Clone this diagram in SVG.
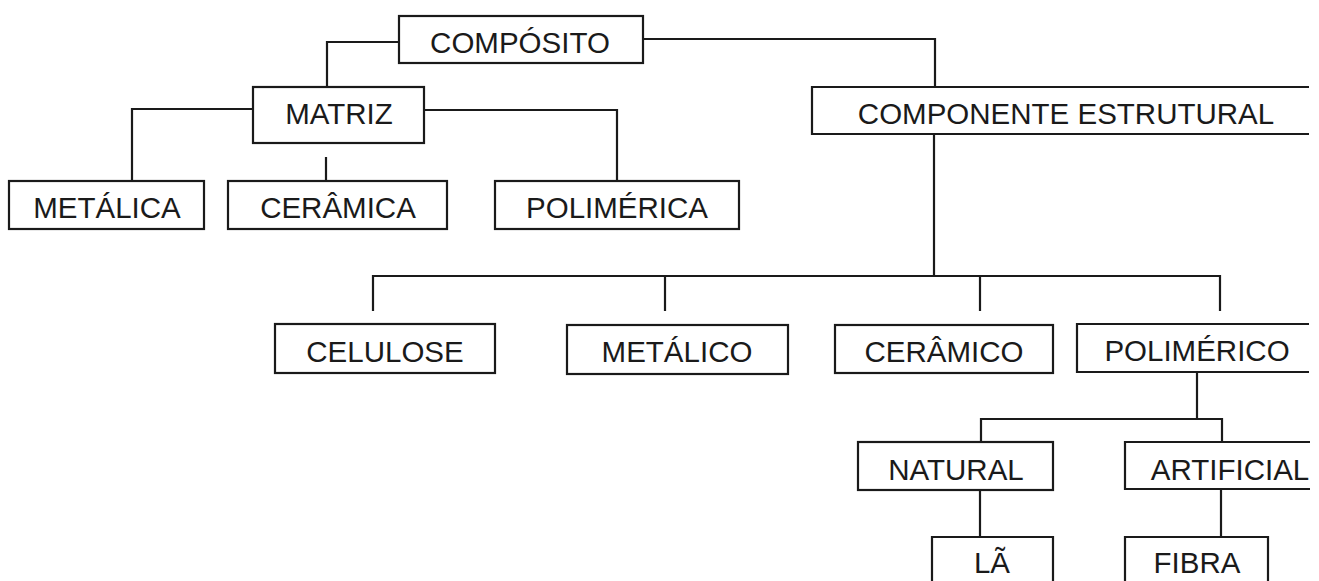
<svg xmlns="http://www.w3.org/2000/svg" width="1319" height="581" viewBox="0 0 1319 581">
<style>
.b{fill:#fff;stroke:#1a1a1a;stroke-width:2.2}
.o{fill:none;stroke:#1a1a1a;stroke-width:2.2}
.t{font-family:"Liberation Sans",Arial,sans-serif;font-size:29.5px;fill:#1a1a1a;text-anchor:middle}
.c{fill:none;stroke:#1a1a1a;stroke-width:2.2}
</style>
<rect width="1319" height="581" fill="#fff"/>
<g id="connectors">
<path class="c" d="M399 42 H327 V87"/>
<path class="c" d="M253 109 H132 V181"/>
<path class="c" d="M326 157 V181"/>
<path class="c" d="M424 110 H617 V181"/>
<path class="c" d="M643 39 H935 V87"/>
<path class="c" d="M934 134 V276"/>
<path class="c" d="M373 311 V276 H1220 V311"/>
<path class="c" d="M665 276 V311"/>
<path class="c" d="M980 276 V311"/>
<path class="c" d="M1197 373 V419"/>
<path class="c" d="M981 442 V419 H1222 V442"/>
<path class="c" d="M980 490 V537"/>
<path class="c" d="M1221 489 V537"/>
</g>
<g id="composito"><rect class="b" x="399" y="16" width="244" height="47"/><text class="t" x="520" y="53">COMPÓSITO</text></g>
<g id="matriz"><rect class="b" x="253" y="87" width="171" height="56"/><text class="t" x="339" y="124">MATRIZ</text></g>
<g id="metalica"><rect class="b" x="9" y="181" width="195" height="48"/><text class="t" x="107" y="218">METÁLICA</text></g>
<g id="ceramica"><rect class="b" x="228" y="181" width="219" height="48"/><text class="t" x="338" y="218">CERÂMICA</text></g>
<g id="polimerica"><rect class="b" x="495" y="181" width="244" height="48"/><text class="t" x="617" y="218">POLIMÉRICA</text></g>
<g id="componente"><path class="o" d="M1309 87 H812 V134 H1309"/><text class="t" x="1066" y="124">COMPONENTE ESTRUTURAL</text></g>
<g id="celulose"><rect class="b" x="275" y="324" width="220" height="49"/><text class="t" x="385" y="362">CELULOSE</text></g>
<g id="metalico"><rect class="b" x="567" y="325" width="221" height="49"/><text class="t" x="677" y="362">METÁLICO</text></g>
<g id="ceramico"><rect class="b" x="835" y="325" width="218" height="48"/><text class="t" x="944" y="362">CERÂMICO</text></g>
<g id="polimerico"><path class="o" d="M1309 324 H1077 V372 H1309"/><text class="t" x="1197" y="361">POLIMÉRICO</text></g>
<g id="natural"><rect class="b" x="858" y="442" width="195" height="48"/><text class="t" x="956" y="480">NATURAL</text></g>
<g id="artificial"><path class="o" d="M1310 442 H1125 V489 H1310"/><text class="t" x="1230" y="480">ARTIFICIAL</text></g>
<g id="la"><path class="o" d="M932 590 V537 H1053 V590"/><text class="t" x="992" y="573">LÃ</text></g>
<g id="fibra"><path class="o" d="M1125 590 V537 H1268 V590"/><text class="t" x="1197" y="573">FIBRA</text></g>
</svg>
